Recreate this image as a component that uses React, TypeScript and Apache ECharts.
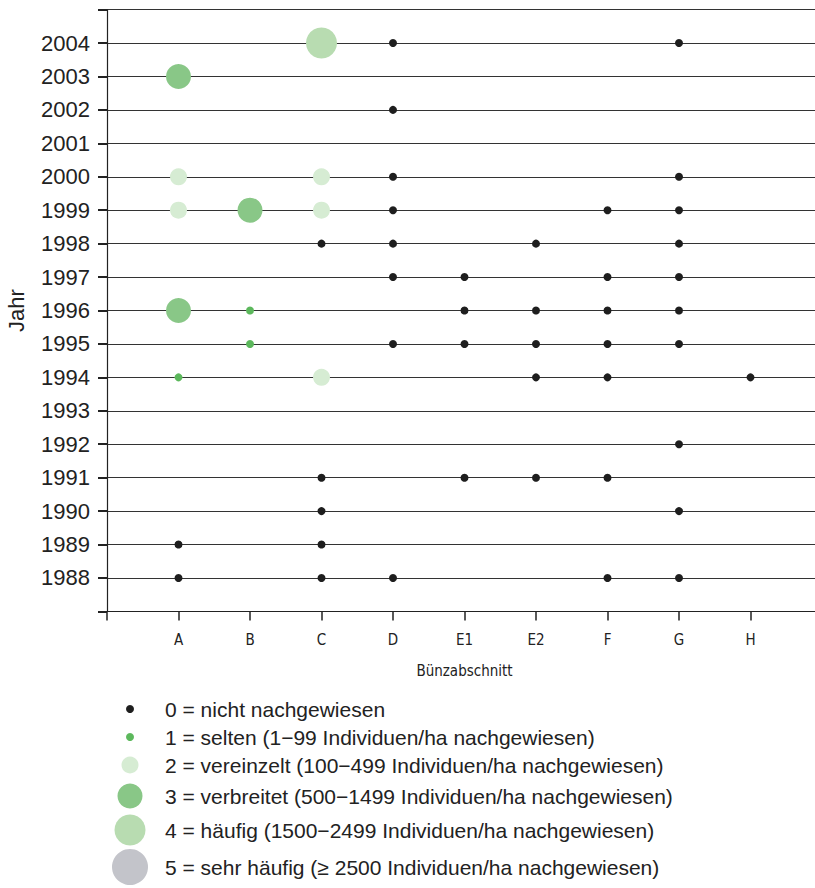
import React, { useEffect, useRef } from "react";
import * as echarts from "echarts";

const categories = ["A", "B", "C", "D", "E1", "E2", "F", "G", "H"];
const yearMin = 1987;
const yearMax = 2005;
const yearLabelFirst = 1988;
const yearLabelLast = 2004;

const level0: [string, number][] = [
  ["D", 2004], ["G", 2004], ["D", 2002], ["D", 2000], ["G", 2000],
  ["D", 1999], ["F", 1999], ["G", 1999],
  ["C", 1998], ["D", 1998], ["E2", 1998], ["G", 1998],
  ["D", 1997], ["E1", 1997], ["F", 1997], ["G", 1997],
  ["E1", 1996], ["E2", 1996], ["F", 1996], ["G", 1996],
  ["D", 1995], ["E1", 1995], ["E2", 1995], ["F", 1995], ["G", 1995],
  ["E2", 1994], ["F", 1994], ["H", 1994],
  ["G", 1992],
  ["C", 1991], ["E1", 1991], ["E2", 1991], ["F", 1991],
  ["C", 1990], ["G", 1990],
  ["A", 1989], ["C", 1989],
  ["A", 1988], ["C", 1988], ["D", 1988], ["F", 1988], ["G", 1988],
];
const level1: [string, number][] = [["B", 1996], ["B", 1995], ["A", 1994]];
const level2: [string, number][] = [["A", 2000], ["C", 2000], ["A", 1999], ["C", 1999], ["C", 1994]];
const level3: [string, number][] = [["A", 2003], ["B", 1999], ["A", 1996]];
const level4: [string, number][] = [["C", 2004]];
const level5: [string, number][] = [];

const levelData = [level0, level1, level2, level3, level4, level5];
const levelColors = ["#1e1e1e", "#5cb85c", "#d6ecd3", "#89c787", "#b8dcb1", "#c3c4ca"];
const levelSizes = [8, 8, 17, 25, 31, 36];
const legendLabels = [
  "0 = nicht nachgewiesen",
  "1 = selten (1\u221299 Individuen/ha nachgewiesen)",
  "2 = vereinzelt (100\u2212499 Individuen/ha nachgewiesen)",
  "3 = verbreitet (500\u22121499 Individuen/ha nachgewiesen)",
  "4 = h\u00e4ufig (1500\u22122499 Individuen/ha nachgewiesen)",
  "5 = sehr h\u00e4ufig (\u2265 2500 Individuen/ha nachgewiesen)",
];
const legendRowY = [709, 737, 765, 796, 830, 867];

const condensed = "'Liberation Sans Narrow', 'DejaVu Sans Condensed', 'Roboto Condensed', sans-serif";
const regular = "'Liberation Sans', Arial, sans-serif";

export default function App() {
  const ref = useRef<HTMLDivElement>(null);
  useEffect(() => {
    if (!ref.current) return;
    const chart = echarts.init(ref.current, null, { renderer: "svg" });
    const series = levelData.map((d, i) => ({
      type: "scatter" as const,
      name: String(i),
      symbol: "circle",
      symbolSize: levelSizes[i],
      itemStyle: { color: levelColors[i], opacity: 1 },
      z: 10 - i,
      data: d.map(([c, y]) => [categories.indexOf(c) + 1, y]),
    }));
    const legendGraphics: any[] = [];
    legendLabels.forEach((t, i) => {
      legendGraphics.push({
        type: "circle",
        shape: { cx: 130, cy: legendRowY[i], r: levelSizes[i] / 2 },
        style: { fill: levelColors[i] },
      });
      legendGraphics.push({
        type: "text",
        x: 165,
        y: legendRowY[i],
        style: {
          text: t,
          fill: "#222",
          font: "21px " + regular,
          verticalAlign: "middle",
          textAlign: "left",
        },
      });
    });
    chart.setOption({
      animation: false,
      backgroundColor: "#fff",
      grid: {
        left: 107,
        width: 715,
        top: 9.6,
        height: 601.8,
        containLabel: false,
        outerBoundsMode: "none",
      },
      xAxis: {
        type: "value",
        min: 0,
        max: 10,
        interval: 1,
        name: "B\u00fcnzabschnitt",
        nameLocation: "middle",
        nameGap: 52,
        nameTextStyle: { color: "#222", fontSize: 15, fontFamily: condensed },
        axisLine: { show: true, lineStyle: { color: "#222", width: 1.2 } },
        axisTick: { show: true, length: 9, lineStyle: { color: "#222", width: 1.5 } },
        axisLabel: {
          margin: 21,
          color: "#222",
          fontSize: 15,
          fontFamily: condensed,
          formatter: (v: number) => (v >= 1 && v <= categories.length ? categories[v - 1] : ""),
        },
        splitLine: { show: false },
      },
      yAxis: {
        type: "value",
        min: yearMin,
        max: yearMax,
        interval: 1,
        name: "Jahr",
        nameLocation: "middle",
        nameRotate: 90,
        nameGap: 80,
        nameTextStyle: { color: "#222", fontSize: 22, fontFamily: regular },
        axisLine: { show: true, lineStyle: { color: "#222", width: 1.2 } },
        axisTick: { show: true, length: 9, lineStyle: { color: "#222", width: 2 } },
        axisLabel: {
          margin: 17,
          color: "#222",
          fontSize: 22,
          fontFamily: regular,
          formatter: (v: number) => (v >= yearLabelFirst && v <= yearLabelLast ? String(v) : ""),
        },
        splitLine: { show: true, lineStyle: { color: "#333", width: 1 } },
      },
      series,
      graphic: legendGraphics,
    });
    return () => chart.dispose();
  }, []);
  return (
    <div
      ref={ref}
      style={{ position: "absolute", left: 0, top: 0, width: 815, height: 888 }}
    />
  );
}
